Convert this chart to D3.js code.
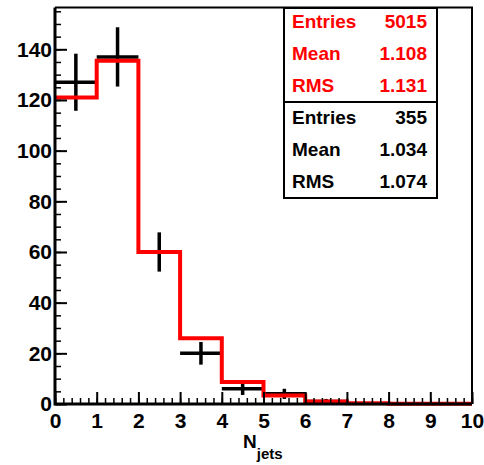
<!DOCTYPE html>
<html>
<head>
<meta charset="utf-8">
<script src="https://cdn.jsdelivr.net/npm/d3@7"></script>
<style>
    body { margin: 0; background: #fff; }
    text { font-family: "Liberation Sans", Arial, Helvetica, sans-serif; font-weight: bold; }
</style>
</head>
<body>
<script>
// dimensions
const width = 484;
const height = 465;

// bins: lower edges, N_jets 0..9
const binLow = [0, 1, 2, 3, 4, 5, 6, 7, 8, 9];
// data (black points, sqrt(N) errors)
const dataCounts = [127, 137, 60, 20, 6, 4, 1, 0, 0, 0];
// simulation, normalised (red histogram)
const mcCounts = [121, 135.5, 60, 26, 8.7, 3.4, 1.0, 0.3, 0.1, 0.05];

const xTicks = [0, 1, 2, 3, 4, 5, 6, 7, 8, 9, 10];
const yTicks = [0, 20, 40, 60, 80, 100, 120, 140];

const statsRed = [["Entries", "5015"], ["Mean", "1.108"], ["RMS", "1.131"]];
const statsBlack = [["Entries", "355"], ["Mean", "1.034"], ["RMS", "1.074"]];

const frame = { left: 55, right: 472, top: 7.5, bottom: 404 };
const red = "#ff0000";

let svg = d3.select("body")
    .append("svg")
    .attr("width", width)
    .attr("height", height);

let x = d3.scaleLinear()
    .domain([0, 10])
    .range([frame.left, frame.right]);
let y = d3.scaleLinear()
    .domain([0, 156.5])
    .range([frame.bottom, frame.top]);

// frame (top and right sides)
svg.append("path")
    .attr("d", "M" + frame.left + "," + frame.top + "H" + frame.right + "V" + frame.bottom)
    .attr("fill", "none")
    .attr("stroke", "#000")
    .attr("stroke-width", 2);

// data crosses, drawn first so the red line sits on top
let pts = binLow.map(function(lo, i) {
    return { lo: lo, n: dataCounts[i] };
}).filter(function(d) { return d.n > 0; });

let cross = svg.append("g")
    .attr("stroke", "#000")
    .attr("stroke-width", 3.5);
cross.selectAll(".hbar")
    .data(pts)
    .enter()
    .append("line")
    .attr("x1", function(d) { return x(d.lo); })
    .attr("x2", function(d) { return x(d.lo + 1); })
    .attr("y1", function(d) { return y(d.n); })
    .attr("y2", function(d) { return y(d.n); });
cross.selectAll(".vbar")
    .data(pts)
    .enter()
    .append("line")
    .attr("x1", function(d) { return x(d.lo + 0.5); })
    .attr("x2", function(d) { return x(d.lo + 0.5); })
    .attr("y1", function(d) { return y(d.n + Math.sqrt(d.n)); })
    .attr("y2", function(d) { return y(Math.max(0, d.n - Math.sqrt(d.n))); });

// red step histogram
let step = "";
binLow.forEach(function(lo, i) {
    step += (i === 0 ? "M" : "L") + x(lo) + "," + y(mcCounts[i]) + "L" + x(lo + 1) + "," + y(mcCounts[i]);
});
svg.append("path")
    .attr("d", step)
    .attr("fill", "none")
    .attr("stroke", red)
    .attr("stroke-width", 4)
    .attr("stroke-linejoin", "miter");

// axes, ticks pointing into the frame
function styleAxis(g, w) {
    g.select(".domain").remove();
    g.selectAll("line").attr("stroke", "#000").attr("stroke-width", w);
    g.selectAll("text").attr("fill", "#000").style("font-size", "21px");
}

svg.append("g")
    .attr("transform", "translate(0," + frame.bottom + ")")
    .call(d3.axisBottom(x).tickValues(d3.range(0, 10.01, 0.2)).tickSize(-6).tickFormat(""))
    .call(styleAxis, 1.5);
svg.append("g")
    .attr("transform", "translate(0," + frame.bottom + ")")
    .call(d3.axisBottom(x).tickValues(xTicks).tickSize(-12).tickPadding(9).tickFormat(d3.format("d")))
    .call(styleAxis, 2);

svg.append("g")
    .attr("transform", "translate(" + frame.left + ",0)")
    .call(d3.axisLeft(y).tickValues(d3.range(0, 156, 5)).tickSize(-6).tickFormat(""))
    .call(styleAxis, 1.5);
svg.append("g")
    .attr("transform", "translate(" + frame.left + ",0)")
    .call(d3.axisLeft(y).tickValues(yTicks).tickSize(-12).tickPadding(3).tickFormat(d3.format("d")))
    .call(styleAxis, 2);

// axis lines
svg.append("path")
    .attr("d", "M" + frame.left + "," + frame.top + "V" + frame.bottom + "H" + frame.right)
    .attr("fill", "none")
    .attr("stroke", "#000")
    .attr("stroke-width", 3);

// axis title N_jets
let title = svg.append("text")
    .attr("x", 243)
    .attr("y", 448)
    .style("font-size", "19px");
title.append("tspan").text("N");
title.append("tspan")
    .attr("dy", 11)
    .style("font-size", "15px")
    .text("jets");

// stats boxes
const box = { left: 284, right: 437, top: 8, mid: 102, bottom: 198 };
svg.append("rect")
    .attr("x", box.left).attr("y", box.top)
    .attr("width", box.right - box.left).attr("height", box.mid - box.top)
    .attr("fill", "#fff").attr("stroke", "#000").attr("stroke-width", 2);
svg.append("rect")
    .attr("x", box.left).attr("y", box.mid)
    .attr("width", box.right - box.left).attr("height", box.bottom - box.mid)
    .attr("fill", "#fff").attr("stroke", "#000").attr("stroke-width", 2);

function statRows(rows, y0, color) {
    rows.forEach(function(r, i) {
        svg.append("text")
            .attr("x", 292).attr("y", y0 + i * 32)
            .attr("fill", color)
            .style("font-size", "19px")
            .text(r[0]);
        svg.append("text")
            .attr("x", 427).attr("y", y0 + i * 32)
            .attr("fill", color)
            .attr("text-anchor", "end")
            .style("font-size", "19px")
            .text(r[1]);
    });
}
statRows(statsRed, 28, red);
statRows(statsBlack, 123.5, "#000");
</script>
</body>
</html>
